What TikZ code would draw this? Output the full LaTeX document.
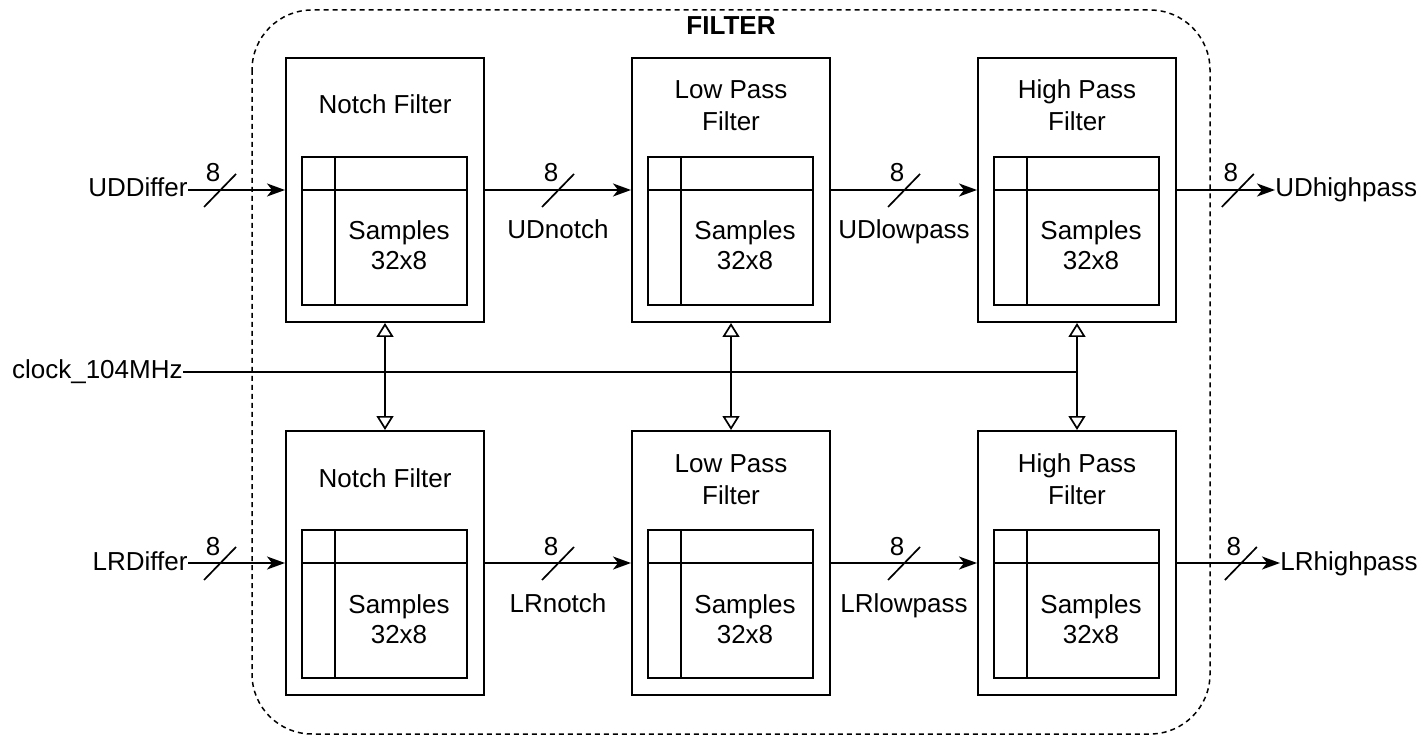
\documentclass[tikz,border=0pt]{standalone}
\usepackage{fontspec}
\setmainfont{Liberation Sans}
\usetikzlibrary{arrows.meta,calc}

\tikzset{
  txt/.style={font=\fontsize{13}{15}\selectfont, inner sep=0pt, text height=9.5pt, text depth=2.5pt},
  block/.style={draw, line width=1pt, minimum width=99pt, minimum height=132pt, inner sep=0pt},
  table/.style={draw, line width=0.9pt, minimum width=82.5pt, minimum height=74pt, inner sep=0pt},
  wire/.style={line width=0.85pt},
  data/.style={wire, -{Stealth[length=9pt, width=6.5pt, inset=2.5pt]}},
  clk/.style={wire, {Triangle[open, length=7pt, width=8.5pt, fill=white]}-{Triangle[open, length=7pt, width=8.5pt, fill=white]}},
  border/.style={draw, line width=0.75pt, dash pattern=on 2.5pt off 2pt, rounded corners=30pt},
}

% one filter stage: outer block, sample table with its header lines, captions
\newcommand{\stage}[5]{% name, cx, cy, title line 1, title line 2 (empty for one line)
  \node[block] (#1) at (#2,#3) {};
  \node[table] (#1t) at ({#2-0.5},{#3+41}) {};
  \draw[line width=0.9pt] ({#2-50},{#3-33}) -- ({#2-50},{#3+115});
  \draw[line width=0.9pt] ({#2-83},{#3}) -- ({#2+82},{#3});
  \node[txt] (#1s) at ({#2+14},{#3+43}) {Samples};
  \node[txt] (#1n) at ({#2+14},{#3+73}) {32x8};
  \if\relax\detokenize{#5}\relax
    \node[txt] (#1h) at (#2,{#3-83}) {#4};
  \else
    \node[txt] (#1h) at (#2,{#3-98}) {#4};
    \node[txt] (#1g) at (#2,{#3-66}) {#5};
  \fi
}

% bus width mark: slash across a wire and its width label
\newcommand{\bus}[1]{%
  \draw[wire] ([shift={(-16,17)}]#1) -- ([shift={(16,-16)}]#1);
  \node[txt] at ([shift={(-7,-15)}]#1) {8};
}

\begin{document}
\begin{tikzpicture}[x=0.5pt,y=-0.5pt]
\useasboundingbox (0,0) rectangle (1423,737);

% enclosing module
\draw[border] (252,10) rectangle (1210,734);
\node[txt, font=\fontsize{13}{15}\selectfont\bfseries] (title) at (731,28) {FILTER};

% stages
\stage{n1}{385}{190}{Notch Filter}{}
\stage{l1}{731}{190}{Low Pass}{Filter}
\stage{h1}{1077}{190}{High Pass}{Filter}
\stage{n2}{385}{563}{Notch Filter}{}
\stage{l2}{731}{563}{Low Pass}{Filter}
\stage{h2}{1077}{563}{High Pass}{Filter}

% ports
\node[txt, anchor=east] (udin) at (188,190) {UDDiffer};
\node[txt, anchor=east] (lrin) at (188,563) {LRDiffer};
\node[txt, anchor=west] (udout) at (1275,190) {UDhighpass};
\node[txt, anchor=west] (lrout) at (1280,563) {LRhighpass};
\node[txt, anchor=east] (clock) at (183,372) {clock\_104MHz};
\coordinate (clkend) at (1077,372);

% upper channel
\draw[data] (udin.east) -- coordinate[pos=0.33] (b1) (n1.west);
\draw[data] (n1.east) -- coordinate[pos=0.5] (b2)
  node[txt, pos=0.5, yshift=-21pt] (udnotch) {UDnotch} (l1.west);
\draw[data] (l1.east) -- coordinate[pos=0.5] (b3)
  node[txt, pos=0.5, yshift=-21pt] (udlow) {UDlowpass} (h1.west);
\draw[data] (h1.east) -- coordinate[pos=0.62] (b4) (udout.west);
\bus{b1}\bus{b2}\bus{b3}\bus{b4}

% lower channel
\draw[data] (lrin.east) -- coordinate[pos=0.33] (c1) (n2.west);
\draw[data] (n2.east) -- coordinate[pos=0.5] (c2)
  node[txt, pos=0.5, yshift=-21pt] (lrnotch) {LRnotch} (l2.west);
\draw[data] (l2.east) -- coordinate[pos=0.5] (c3)
  node[txt, pos=0.5, yshift=-21pt] (lrlow) {LRlowpass} (h2.west);
\draw[data] (h2.east) -- coordinate[pos=0.62] (c4) (lrout.west);
\bus{c1}\bus{c2}\bus{c3}\bus{c4}

% clock distribution
\draw[wire] (clock.east) -- (clkend);
\draw[clk] (n1.south) -- (n2.north);
\draw[clk] (l1.south) -- (l2.north);
\draw[clk] (h1.south) -- (h2.north);
\end{tikzpicture}
\end{document}
